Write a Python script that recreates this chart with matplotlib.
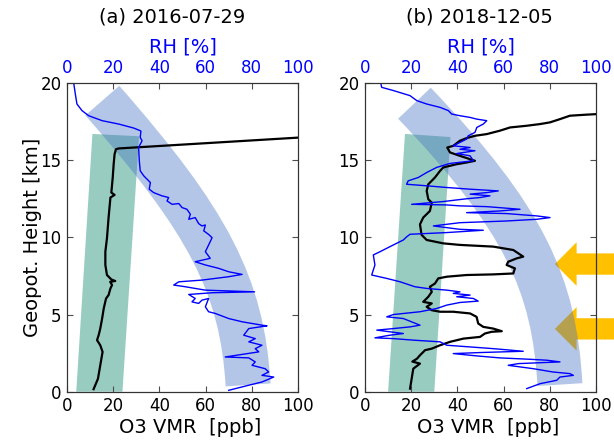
import numpy as np
import matplotlib
matplotlib.use('Agg')
import matplotlib.pyplot as plt
from matplotlib.path import Path
from matplotlib.patches import PathPatch, Polygon, FancyArrow

# ---- data ----
titles = ['(a) 2016-07-29', '(b) 2018-12-05']

# panel (a) ozone profile
o3_a_km = [0.16, 0.84, 1.71, 2.58, 3.01, 3.34, 3.66, 4.09, 4.74, 5.39, 6.04, 6.26, 6.69,
           6.91, 7.12, 7.17, 7.27, 7.56, 8.21, 9.07, 9.94, 11.28, 12.58, 12.75, 12.9,
           13.88, 14.74, 15.39, 15.71, 15.76, 16.47]
o3_a_ppb = [11.5, 13.4, 14.4, 15.4, 14.4, 13.0, 13.7, 14.4, 15.2, 15.9, 16.9, 18.0, 18.8,
            19.5, 18.7, 20.9, 19.2, 17.3, 16.6, 16.6, 17.3, 18.0, 18.8, 20.6, 19.2,
            19.8, 20.2, 20.6, 21.2, 22.4, 101]

# panel (a) relative humidity profile
rh_a_km = [20.0, 19.29, 18.64, 18.21, 17.88, 17.56, 17.34, 17.08, 16.91, 16.88, 16.47, 16.26,
           15.82, 14.96, 14.31, 13.99, 13.55, 13.12, 12.90, 12.69, 12.58, 12.36, 12.14, 12.19,
           11.93, 11.82, 11.50, 11.17, 11.28, 10.89, 10.74, 10.80, 10.42, 10.19, 9.98, 9.72,
           9.07, 8.64, 8.42, 8.21, 7.99, 7.77, 7.60, 7.45, 7.23, 7.12, 6.91, 6.80, 6.69,
           6.58, 6.47, 6.41, 6.30, 6.04, 5.82, 5.72, 5.93, 6.04, 5.50, 5.18, 5.07, 4.74,
           4.53, 4.42, 4.31, 4.27, 4.09, 3.66, 3.44, 3.23, 3.01, 2.79, 2.58, 2.25, 2.19,
           1.93, 1.71, 1.49, 1.28, 1.06, 0.95, 0.63, 0.42, 0.09]
rh_a_pct = [2.9, 3.6, 4.3, 6.5, 9.4, 15.2, 22.4, 28.9, 31.7, 32.0, 31.7, 32.5,
            31.0, 31.3, 31.7, 33.2, 36.1, 35.6, 37.5, 41.1, 44.0, 43.3, 45.5, 48.4,
            49.8, 51.9, 53.4, 52.7, 55.5, 57.0, 58.4, 59.9, 59.2, 61.3, 62.8, 62.0,
            59.9, 62.0, 55.5, 59.9, 65.7, 70.0, 75.8, 70.0, 58.4, 48.4, 46.2, 51.2, 55.5,
            59.9, 81.2, 62.8, 52.7, 55.5, 54.1, 57.0, 58.4, 61.3, 59.9, 61.3, 64.2, 70.0,
            75.8, 80.1, 84.4, 86.6, 78.7, 76.5, 81.5, 78.7, 84.4, 81.5, 83.0, 68.5, 78.7,
            81.5, 80.1, 85.8, 87.3, 84.4, 89.5, 84.4, 78.7, 70.0]

# panel (b) ozone profile
o3_b_km = [0.2, 0.84, 1.49, 1.82, 1.95, 2.14, 2.36, 2.69, 2.79, 3.01, 3.23, 3.44, 3.55, 3.77,
           3.88, 3.92, 4.09, 4.20, 4.42, 4.85, 5.07, 5.18, 5.18, 5.28, 5.50, 5.72, 5.82,
           6.15, 6.47, 6.80, 7.01, 7.34, 7.45, 7.56, 7.60, 7.66, 7.99, 8.21, 8.42, 8.64,
           8.75, 8.96, 9.18, 9.40, 9.51, 9.61, 9.83, 10.16, 10.84, 11.28, 11.71, 12.25,
           12.47, 13.01, 13.44, 13.88, 14.31, 14.53, 14.74, 14.85, 14.96, 15.28, 15.50,
           15.82, 15.93, 16.26, 16.43, 16.58, 16.69, 16.91, 17.12, 17.23, 17.34, 17.45,
           17.66, 17.88, 17.95, 17.99]
o3_b_ppb = [19.5, 20.2, 20.9, 23.8, 20.5, 22.5, 23.8, 26.0, 28.9, 32.5, 36.8, 42.6, 49.8, 51.9,
            54.8, 59.2, 55.5, 51.2, 49.0, 48.3, 45.5, 38.2, 32.5, 28.9, 26.7, 28.9, 25.2,
            27.4, 28.9, 28.1, 30.3, 31.7, 35.4, 44.0, 55.5, 64.2, 64.9, 61.3, 62.0, 65.7,
            68.5, 66.4, 64.2, 55.5, 41.1, 33.9, 26.7, 24.5, 23.8, 25.2, 28.1, 28.9,
            27.4, 26.7, 27.4, 30.3, 32.5, 33.9, 39.7, 44.0, 47.6, 41.1, 36.8,
            35.6, 38.2, 41.1, 44.0, 47.6, 52.7, 58.4, 62.8, 70.0, 75.8, 80.1,
            84.4, 88.7, 96.0, 101]

# panel (b) relative humidity profile
rh_b_km = [20.04, 19.72, 19.51, 19.18, 18.86, 18.64, 18.42, 18.21, 17.99, 17.88, 17.77, 17.66,
           17.56, 17.34, 17.12, 16.80, 16.58, 16.37, 16.15, 15.93, 15.82, 15.71, 15.61, 15.43,
           15.28, 14.96, 14.79, 14.53, 14.20, 13.88, 13.66, 13.44, 13.34, 13.23, 13.12, 13.01,
           12.90, 12.80, 12.69, 12.58, 12.50, 12.32, 12.14, 12.10, 12.04, 11.99, 11.82, 11.71,
           11.60, 11.54, 11.39, 11.28, 11.17, 11.06, 10.95, 10.74, 10.52, 10.46, 10.31, 10.20,
           10.03, 9.83, 9.51, 9.07, 8.86, 8.21, 7.56, 7.34, 7.12, 6.80, 6.69, 6.58, 6.47,
           6.37, 6.26, 6.15, 6.04, 5.87, 5.78, 5.61, 5.39, 5.18, 5.00, 4.85, 4.74, 4.31,
           4.20, 4.09, 3.99, 3.77, 3.66, 3.49, 3.44, 3.34, 3.23, 3.01, 2.90, 2.79, 2.62,
           2.54, 2.47, 2.32, 2.19, 2.10, 2.04, 1.93, 1.82, 1.71, 1.49, 1.28, 1.17, 1.06,
           0.95, 0.74, 0.52, 0.20]
rh_b_pct = [6.8, 7.2, 12.3, 19.5, 22.4, 26.7, 32.5, 36.1, 37.5, 41.1, 45.5, 48.4,
            52.7, 51.2, 48.4, 47.6, 44.7, 44.0, 41.1, 38.2, 45.5, 41.1, 47.6, 39.7,
            45.5, 46.9, 36.8, 31.0, 26.7, 23.1, 18.7, 18.0, 26.7, 35.4, 45.5, 57.7,
            52.7, 45.5, 54.1, 49.8, 44.0, 33.9, 20.2, 35.4, 41.1, 52.7, 67.1, 58.4,
            44.0, 61.3, 74.3, 80.1, 74.3, 61.3, 41.1, 29.6, 41.1, 51.2, 35.4, 19.5,
            18.0, 16.6, 12.3, 6.5, 3.6, 4.3, 2.9, 9.4, 15.2, 21.6, 26.7, 35.4, 41.1,
            38.2, 45.5, 39.7, 46.9, 49.0, 41.1, 35.4, 31.0, 23.8, 12.3, 9.4, 16.6, 23.8,
            19.5, 12.3, 5.1, 16.6, 10.8, 4.3, 12.3, 20.9, 32.5, 35.4, 45.5, 55.5, 68.5,
            50.5, 38.2, 48.3, 58.4, 71.4, 78.7, 84.4, 66.4, 62.0, 72.9, 81.2, 88.7, 90.2,
            84.4, 83.0, 75.8, 70.0]

# shaded ranges (ozone band corners, x in ppb / y in km)
green_a = [(4, 0), (24, 0), (31.2, 16.55), (11, 16.7)]
green_b = [(10, 0), (30, 0), (37, 16.5), (17.3, 16.7)]
# humidity band centre line (start, two control points, end)
band_a = [(15.3, 18.86), (61.0, 11.06), (75.8, 6.92), (78.4, 0.44)]
band_b = [(21.4, 18.69), (69.3, 11.18), (81.9, 6.93), (84.4, 0.46)]
# layers marked by arrows in panel (b)
arrow_km = [8.27, 4.07]

o3_data = [(o3_a_ppb, o3_a_km), (o3_b_ppb, o3_b_km)]
rh_data = [(rh_a_pct, rh_a_km), (rh_b_pct, rh_b_km)]
greens = [green_a, green_b]
bands = [band_a, band_b]

fig = plt.figure(figsize=(6.14, 4.44), dpi=100)
lefts = [67/614, 365/614]
title_x = [0.453, 0.494]

for i in range(2):
    ax = fig.add_axes([lefts[i], 52.3/444, 231/614, 308.7/444])
    ax.set_xlim(0, 100)
    ax.set_ylim(0, 20)

    ax.add_patch(Polygon(greens[i], closed=True, facecolor='#008064', alpha=0.4,
                         edgecolor='none', zorder=1))
    verts = bands[i]
    path = Path(verts, [Path.MOVETO, Path.CURVE4, Path.CURVE4, Path.CURVE4])
    ax.add_patch(PathPatch(path, facecolor='none', edgecolor='#4472c4', alpha=0.4,
                           lw=32.4, capstyle='butt', zorder=2))

    if i == 1:
        for yk in arrow_km:
            ax.add_patch(FancyArrow(112, yk, 82.2 - 112, 0, width=1.38, head_width=2.82,
                                    head_length=9.4, length_includes_head=True,
                                    color='#ffc000', lw=0, clip_on=False, zorder=1.5))

    ax.plot(o3_data[i][0], o3_data[i][1], color='black', lw=1.6, zorder=3)

    ax.set_xticks([0, 20, 40, 60, 80, 100])
    ax.set_yticks([0, 5, 10, 15, 20])
    ax.tick_params(direction='in', length=4, pad=4, labelsize=12, right=True,
                   color='0.3')
    for s in ax.spines.values():
        s.set_color('0.2')
    ax.set_xlabel('O3 VMR  [ppb]', fontsize=14, x=0.535, labelpad=1.7)
    if i == 0:
        ax.set_ylabel('Geopot. Height [km]', fontsize=14, labelpad=-1)

    ax2 = ax.twiny()
    ax2.set_xlim(0, 100)
    ax2.plot(rh_data[i][0], rh_data[i][1], color='blue', lw=1.0)
    ax2.set_xticks([0, 20, 40, 60, 80, 100])
    ax2.tick_params(direction='in', length=4, pad=4, labelsize=12, labelcolor='blue',
                    color='0.3')
    for s in ax2.spines.values():
        s.set_color('0.2')
    ax2.set_xlabel('RH [%]', fontsize=14, color='blue', labelpad=5)
    ax.set_title(titles[i], fontsize=14, x=title_x[i], y=1.168)

plt.savefig('out.png', dpi=100)
plt.close()
